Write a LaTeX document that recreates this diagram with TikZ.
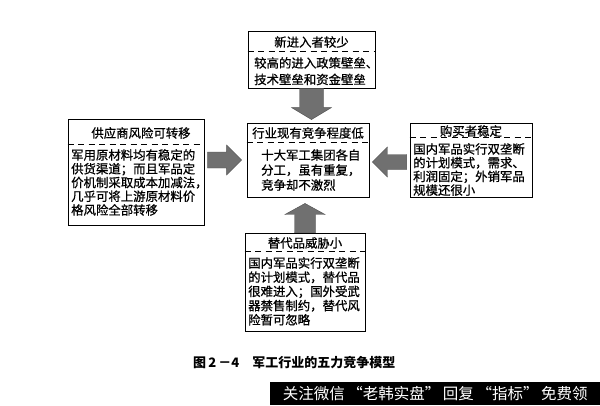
\documentclass[tikz,border=0pt]{standalone}
\usepackage{fontspec}
\newfontfamily\cjk{Noto Sans CJK SC}
\newfontfamily\cjkdark[FakeBold=0.8]{Noto Sans CJK SC}
\usetikzlibrary{calc}
\definecolor{arrowgray}{RGB}{112,112,112}
\newcommand\fatarrow[5]{%
  \coordinate (fah) at ($(#2)!#5!(#1)$);
  \path[fat] ($(#1)!#3!90:(#2)$) -- ($(fah)!#3!-90:(#1)$) -- ($(fah)!#4!-90:(#1)$) -- (#2)
    -- ($(fah)!#4!90:(#1)$) -- ($(fah)!#3!90:(#1)$) -- ($(#1)!#3!-90:(#2)$) -- cycle;}
\begin{document}
\begin{tikzpicture}[x=1pt,y=-1pt,
  box/.style={draw, line width=0.9pt, inner sep=0pt},
  ttl/.style={font=\cjkdark\fontsize{12.4}{14}\selectfont, inner sep=0pt, anchor=center},
  body/.style={font=\cjkdark\fontsize{12.4}{#1}\selectfont, inner sep=0pt, anchor=north west, align=left},
  sep/.style={dash pattern=on 6pt off 4.5pt, line width=0.8pt},
  fat/.style={fill=arrowgray, draw=arrowgray!70!black, line width=0.4pt}]
\useasboundingbox (0,0) rectangle (600,405);
% boxes
\node[box, minimum width=127pt, minimum height=57pt] (T) at (311.5,59.5) {};
\node[box, minimum width=136pt, minimum height=106pt] (L) at (136,172) {};
\node[box, minimum width=122pt, minimum height=74pt] (C) at (308,160) {};
\node[box, minimum width=122pt, minimum height=74pt] (R) at (471,160) {};
\node[box, minimum width=120pt, minimum height=98pt] (B) at (305,282) {};
% separators
\draw[sep] ($(T.north west)+(0,21)$) -- ($(T.north east)+(0,21)$);
\draw[sep] ($(L.north west)+(0,26)$) -- ($(L.north east)+(0,26)$);
\draw[sep] ($(C.north west)+(0,20)$) -- ($(C.north east)+(0,20)$);
\draw[sep] ($(R.north west)+(0,15)$) -- ($(R.north east)+(0,15)$);
\draw[sep] ($(B.north west)+(0,19)$) -- ($(B.north east)+(0,19)$);
% titles
\node[ttl] (Tt) at (311.5,42) {新进入者较少};
\node[ttl] (Lt) at (141,133) {供应商风险可转移};
\node[ttl] (Ct) at (308,133) {行业现有竞争程度低};
\node[ttl] (Rt) at (471,131) {购买者稳定};
\node[ttl] (Bt) at (305,243) {替代品威胁小};
% bodies
\node[body=16.5] (Tb) at (254,57) {较高的进入政策壁垒、\\技术壁垒和资金壁垒};
\node[body=13.75] (Lb) at (71,149) {军用原材料均有稳定的\\供货渠道；而且军品定\\价机制采取成本加减法，\\几乎可将上游原材料价\\格风险全部转移};
\node[body=15] (Cb) at (261,149) {十大军工集团各自\\分工，虽有重复，\\竞争却不激烈};
\node[body=13.7] (Rb) at (413,143) {国内军品实行双垄断\\的计划模式，需求、\\利润固定；外销军品\\规模还很小};
\node[body=14.2] (Bb) at (248,257) {国内军品实行双垄断\\的计划模式，替代品\\很难进入；国外受武\\器禁售制约，替代风\\险暂可忽略};
% arrows
\coordinate (a1s) at (T.south);
\coordinate (a1e) at ($(T.south|-C.north)+(0,-3)$);
\fatarrow{a1s}{a1e}{12pt}{20pt}{12pt}
\coordinate (a2s) at ($(L.east)+(3,-12)$);
\coordinate (a2e) at ($(a2s-|C.west)+(-5,0)$);
\fatarrow{a2s}{a2e}{8pt}{15pt}{15pt}
\coordinate (a3s) at ($(R.west)+(-3,2)$);
\coordinate (a3e) at ($(a3s-|C.east)+(3,0)$);
\fatarrow{a3s}{a3e}{7.5pt}{15pt}{15pt}
\coordinate (a4s) at (B.north);
\coordinate (a4e) at ($(B.north|-C.south)+(0,6)$);
\fatarrow{a4s}{a4e}{10.5pt}{20pt}{11pt}
% caption
\node[anchor=west, inner sep=0pt, font=\cjk\bfseries\fontsize{13}{15}\selectfont] (cap) at (193,363) {图\,2\,－4\quad 军工行业的五力竞争模型};
% watermark bar
\node[fill=black, minimum width=330pt, minimum height=23pt, inner sep=0pt, anchor=north west] (wm) at (270,382) {};
\node[text=white, inner sep=0pt, font=\cjk\fontsize{15.5}{17}\selectfont] (wmt) at (wm.center) {关注微信\,“老韩实盘”\,回复\,“指标”\,免费领};
\end{tikzpicture}
\end{document}
